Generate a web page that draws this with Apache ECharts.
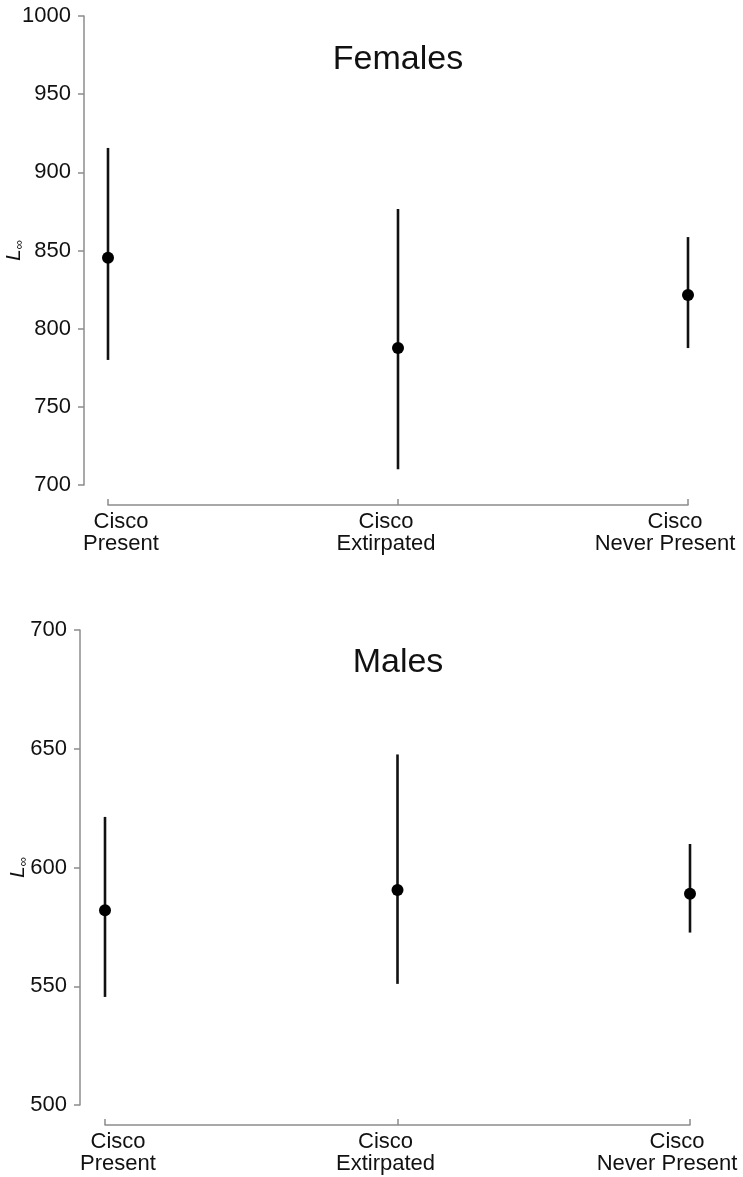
<!DOCTYPE html>
<html>
<head>
<meta charset="utf-8">
<script src="https://cdn.jsdelivr.net/npm/echarts@6/dist/echarts.min.js"></script>
<style>
  html, body { margin: 0; padding: 0; background: #fff; }
  #chart { width: 743px; height: 1177px; }
</style>
</head>
<body>
<div id="chart"></div>
<script>
// groups along the x axis
var categories = ["Cisco\nPresent", "Cisco\nExtirpated", "Cisco\nNever Present"];

// Females: L-infinity estimate with interval
var femaleMean = [845.4, 787.6, 821.5];
var femaleLow = [780, 710, 787.6];
var femaleHigh = [915.6, 876.5, 858.6];

// Males
var maleMean = [582, 590.5, 588.9];
var maleLow = [545.5, 551, 572.6];
var maleHigh = [621.3, 647.6, 609.9];

// y ticks
var femaleTicks = [700, 750, 800, 850, 900, 950, 1000];
var maleTicks = [500, 550, 600, 650, 700];

var FONT = "'Liberation Sans', Arial, Helvetica, sans-serif";
var AXIS_COLOR = "#8c8c8c";

// the labels in the original sit a little off their ticks
var labelPad = [
  [[0, 0, 0, 26], [0, 0, 0, 26]],
  [[0, 24, 0, 0], [0, 24, 0, 0]],
  [[0, 26, 0, 0], [0, 46, 0, 0]],
];

function intervalData(low, high) {
  return low.map(function (v, i) {
    return [i, v, high[i]];
  });
}

function renderBar(params, api) {
  var top = api.coord([api.value(0), api.value(2)]);
  var bottom = api.coord([api.value(0), api.value(1)]);
  return {
    type: "line",
    shape: { x1: top[0], y1: top[1], x2: bottom[0], y2: bottom[1] },
    style: { stroke: "#111", lineWidth: 2.6 },
  };
}

var labelRich = {};
labelPad.forEach(function (pads, i) {
  pads.forEach(function (p, j) {
    labelRich["t" + i + "_" + j] = {
      fontFamily: FONT,
      fontSize: 22,
      color: "#111",
      lineHeight: 22,
      padding: p,
    };
  });
});

function xAxisFor(gridIndex) {
  return {
    gridIndex: gridIndex,
    type: "category",
    data: categories,
    boundaryGap: false,
    offset: 20,
    axisLine: { lineStyle: { color: AXIS_COLOR, width: 1.5 } },
    axisTick: { inside: true, length: 6, lineStyle: { color: AXIS_COLOR, width: 1.5 } },
    splitLine: { show: false },
    axisLabel: {
      interval: 0,
      margin: 6,
      hideOverlap: false,
      formatter: function (val, idx) {
        return val
          .split("\n")
          .map(function (s, j) {
            return "{t" + idx + "_" + j + "|" + s + "}";
          })
          .join("\n");
      },
      rich: labelRich,
    },
  };
}

function yAxisFor(gridIndex, ticks, gap, off) {
  return {
    gridIndex: gridIndex,
    type: "value",
    min: ticks[0],
    max: ticks[ticks.length - 1],
    interval: 50,
    offset: off,
    name: "{l|L}{s|∞}",
    nameLocation: "middle",
    nameGap: gap,
    nameRotate: 90,
    nameMoveOverlap: false,
    nameTextStyle: {
      rich: {
        l: { fontFamily: FONT, fontSize: 21, fontStyle: "italic", color: "#111", lineHeight: 24, verticalAlign: "middle" },
        s: { fontFamily: FONT, fontSize: 13, color: "#111", lineHeight: 24, verticalAlign: "bottom" },
      },
    },
    axisLine: { show: true, lineStyle: { color: AXIS_COLOR, width: 1.5 } },
    axisTick: { show: true, length: 6, lineStyle: { color: AXIS_COLOR, width: 1.5 } },
    splitLine: { show: false },
    axisLabel: {
      fontFamily: FONT,
      fontSize: 22,
      color: "#111",
      margin: 13,
      formatter: function (v) {
        return String(v);
      },
    },
  };
}

var myChart = echarts.init(document.getElementById("chart"));
var option = {
  backgroundColor: "#fff",
  animation: false,
  title: [
    {
      text: "Females",
      left: 393,
      top: 38,
      textAlign: "center",
      textStyle: { fontFamily: FONT, fontSize: 34, fontWeight: "normal", color: "#111" },
    },
    {
      text: "Males",
      left: 393,
      top: 641,
      textAlign: "center",
      textStyle: { fontFamily: FONT, fontSize: 34, fontWeight: "normal", color: "#111" },
    },
  ],
  grid: [
    { left: 108, right: 55, top: 16, height: 469, containLabel: false, outerBoundsMode: "none" },
    { left: 105, right: 53, top: 630, height: 475, containLabel: false, outerBoundsMode: "none" },
  ],
  xAxis: [xAxisFor(0), xAxisFor(1)],
  yAxis: [yAxisFor(0, femaleTicks, 58, 24), yAxisFor(1, maleTicks, 50, 25)],
  series: [
    {
      name: "Females interval",
      type: "custom",
      xAxisIndex: 0,
      yAxisIndex: 0,
      renderItem: renderBar,
      data: intervalData(femaleLow, femaleHigh),
      z: 2,
    },
    {
      name: "Females",
      type: "scatter",
      xAxisIndex: 0,
      yAxisIndex: 0,
      symbolSize: 12,
      itemStyle: { color: "#000", opacity: 1 },
      data: femaleMean,
      z: 3,
    },
    {
      name: "Males interval",
      type: "custom",
      xAxisIndex: 1,
      yAxisIndex: 1,
      renderItem: renderBar,
      data: intervalData(maleLow, maleHigh),
      z: 2,
    },
    {
      name: "Males",
      type: "scatter",
      xAxisIndex: 1,
      yAxisIndex: 1,
      symbolSize: 12,
      itemStyle: { color: "#000", opacity: 1 },
      data: maleMean,
      z: 3,
    },
  ],
};
myChart.setOption(option);
window.addEventListener("resize", function () {
  myChart.resize();
});
</script>
</body>
</html>
